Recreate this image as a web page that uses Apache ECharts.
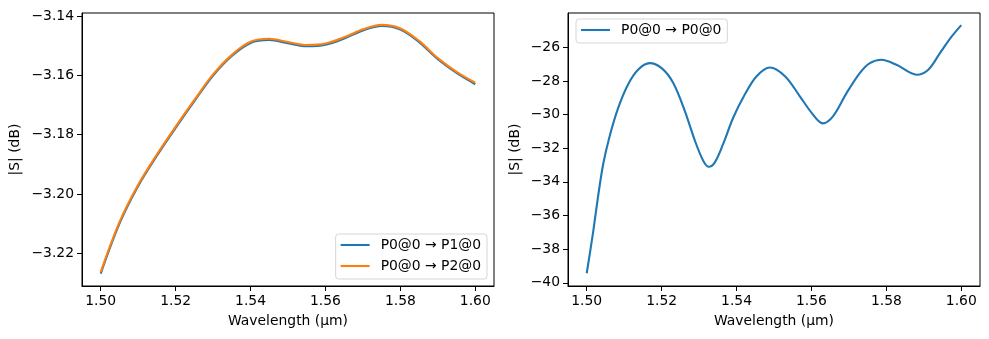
<!DOCTYPE html>
<html>
<head>
<meta charset="utf-8">
<script src="https://cdn.jsdelivr.net/npm/echarts@6/dist/echarts.min.js"></script>
<style>
html,body{margin:0;padding:0;background:#fff;}
#chart{width:989px;height:339px;}
</style>
</head>
<body>
<div id="chart"></div>
<script>
// ---- data ----
const wlLeft = [1.500,1.505,1.510,1.515,1.520,1.525,1.530,1.535,1.540,1.545,1.550,1.555,1.560,1.565,1.570,1.575,1.580,1.585,1.590,1.595,1.600];
const s01 = [-3.2268,-3.2100,-3.1973,-3.1871,-3.1777,-3.1687,-3.1601,-3.1535,-3.1491,-3.1481,-3.1492,-3.1502,-3.1497,-3.1476,-3.1449,-3.1434,-3.1446,-3.1488,-3.1546,-3.1592,-3.1630];
const s02 = [-3.2263,-3.2095,-3.1969,-3.1867,-3.1773,-3.1683,-3.1597,-3.1531,-3.1487,-3.1477,-3.1488,-3.1498,-3.1493,-3.1472,-3.1445,-3.1430,-3.1442,-3.1484,-3.1542,-3.1588,-3.1625];

const wlRight = [1.5000,1.5017,1.5030,1.5044,1.5061,1.5084,1.5110,1.5137,1.5168,1.5200,1.5231,1.5262,1.5289,1.5311,1.5326,1.5342,1.5364,1.5391,1.5422,1.5453,1.5489,1.5530,1.5569,1.5600,1.5630,1.5658,1.5694,1.5729,1.5756,1.5787,1.5827,1.5881,1.5912,1.5943,1.5974,1.6000];
const s00 = [-39.43,-37.00,-34.91,-32.94,-31.30,-29.60,-28.22,-27.33,-26.94,-27.24,-28.12,-29.79,-31.56,-32.74,-33.10,-32.84,-31.76,-30.19,-28.81,-27.73,-27.20,-27.73,-28.91,-29.88,-30.52,-30.09,-28.71,-27.53,-26.94,-26.74,-27.04,-27.63,-27.33,-26.35,-25.37,-24.68];

const xTicks = [1.50,1.52,1.54,1.56,1.58,1.60];
const yTicksLeft = [-3.22,-3.20,-3.18,-3.16,-3.14];
const yTicksRight = [-40,-38,-36,-34,-32,-30,-28,-26];

const names = ['P0@0 \u2192 P1@0','P0@0 \u2192 P2@0','P0@0 \u2192 P0@0'];
const xName = 'Wavelength (\u00b5m)';
const yName = '|S| (dB)';

// ---- chart ----
const FONT = 'DejaVu Sans';
const FS = 13.9;
const minus = s => s.replace('-', '\u2212');

function xAxis(gi) {
  return {
    type: 'value', gridIndex: gi, min: 1.495, max: 1.605,
    name: xName, nameLocation: 'middle', nameGap: 28,
    nameTextStyle: {fontFamily: FONT, fontSize: FS, color: '#000'},
    axisLine: {show: true, onZero: false, lineStyle: {color: '#000', width: 1}},
    axisTick: {show: true, length: 5, lineStyle: {color: '#000', width: 1}, customValues: xTicks},
    axisLabel: {fontFamily: FONT, fontSize: FS, color: '#000', margin: 8,
      customValues: xTicks, formatter: v => v.toFixed(2)},
    splitLine: {show: false}
  };
}
function yAxis(gi, mn, mx, ticks, dec, gap) {
  return {
    type: 'value', gridIndex: gi, min: mn, max: mx,
    name: yName, nameLocation: 'middle', nameGap: gap,
    nameTextStyle: {fontFamily: FONT, fontSize: FS, color: '#000'},
    axisLine: {show: true, onZero: false, lineStyle: {color: '#000', width: 1}},
    axisTick: {show: true, length: 5, lineStyle: {color: '#000', width: 1}, customValues: ticks},
    axisLabel: {fontFamily: FONT, fontSize: FS, color: '#000', margin: 8,
      customValues: ticks, formatter: v => minus(v.toFixed(dec))},
    splitLine: {show: false}
  };
}
const lineSeries = (name, xi, xs, ys, color, sm) => ({
  name, type: 'line', xAxisIndex: xi, yAxisIndex: xi,
  data: xs.map((x, i) => [x, ys[i]]),
  smooth: sm, showSymbol: false, symbol: 'none',
  lineStyle: {color, width: 2.1}, itemStyle: {color},
  emphasis: {disabled: true}
});
const legendBase = {
  orient: 'vertical', itemWidth: 29, itemHeight: 2.1, itemGap: 7,
  icon: 'rect',
  backgroundColor: 'rgba(255,255,255,0.8)', borderColor: '#d6d6d6', borderWidth: 1, borderRadius: 3,
  padding: [4, 6, 6, 5],
  textStyle: {fontFamily: FONT, fontSize: FS, lineHeight: 14, color: '#000', padding: [0, 0, 0, 6]},
  selectedMode: false
};

const chart = echarts.init(document.getElementById('chart'), null, {renderer: 'canvas'});
chart.setOption({
  animation: false,
  backgroundColor: '#fff',
  grid: [
    {left: 82, top: 13, width: 412, height: 273, show: true, borderColor: '#000', borderWidth: 1, containLabel: false},
    {left: 568, top: 13, width: 412, height: 273, show: true, borderColor: '#000', borderWidth: 1, containLabel: false}
  ],
  xAxis: [xAxis(0), xAxis(1)],
  yAxis: [
    yAxis(0, -3.231, -3.139, yTicksLeft, 2, 60),
    yAxis(1, -40.19, -23.96, yTicksRight, 0, 46)
  ],
  legend: [
    Object.assign({}, legendBase, {data: [
      {name: names[0], itemStyle: {color: '#1f77b4'}},
      {name: names[1], itemStyle: {color: '#ff7f0e'}}
    ], right: 502, bottom: 60}),
    Object.assign({}, legendBase, {data: [
      {name: names[2], itemStyle: {color: '#1f77b4'}}
    ], left: 576, top: 19})
  ],
  series: [
    lineSeries(names[0], 0, wlLeft, s01, '#1f77b4', 0.33),
    lineSeries(names[1], 0, wlLeft, s02, '#ff7f0e', 0.33),
    lineSeries(names[2], 1, wlRight, s00, '#1f77b4', 0.33)
  ]
});
</script>
</body>
</html>
